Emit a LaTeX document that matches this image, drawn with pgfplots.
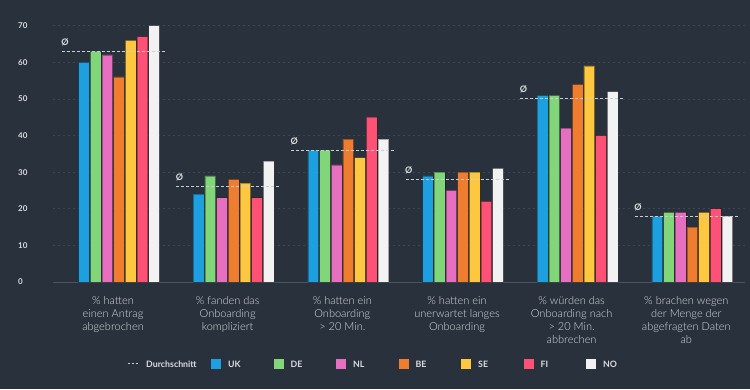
\documentclass[border=0pt]{standalone}
\usepackage{fontspec}
\setmainfont{Lato}
\newfontfamily\lightfont{Lato Light}
\usepackage{pgfplots}
\pgfplotsset{compat=1.18}
\definecolor{bg}{HTML}{29313D}
\definecolor{gridc}{HTML}{3E4755}
\definecolor{axisc}{HTML}{4A535F}
\definecolor{txt}{HTML}{D9DCDF}
\definecolor{avgc}{HTML}{C8CDD2}
\definecolor{cUK}{HTML}{1EA0E0}
\definecolor{cDE}{HTML}{80D678}
\definecolor{cNL}{HTML}{E76FBF}
\definecolor{cBE}{HTML}{EE7D30}
\definecolor{cSE}{HTML}{FDC840}
\definecolor{cFI}{HTML}{FD5275}
\definecolor{cNO}{HTML}{F2F2F2}
\pgfplotsset{
  mybar/.style={ybar, bar width=10.7pt, fill=#1, draw=black, draw opacity=0.3, line width=0.6pt,
    legend image code/.code={\fill[##1, draw=none] (0pt,-1pt) rectangle (10pt,9pt);}},
  avg/.style={forget plot, sharp plot, no marks, draw=avgc, line width=1.1pt, dash pattern=on 3pt off 2pt},
}
\tikzset{oslash/.style={pos=0, anchor=south west, inner sep=0pt, xshift=-1pt, yshift=5pt, text=txt, font=\bfseries\fontsize{9}{10}\selectfont}}
\begin{document}
\begin{tikzpicture}
\fill[bg] (-53pt,-107pt) rectangle (697pt,282pt);
\useasboundingbox (-53pt,-107pt) rectangle (697pt,282pt);
\begin{axis}[
  scale only axis, width=692pt, height=256.3pt,
  xmin=-0.576, xmax=5.46, ymin=0, ymax=70,
  clip=false,
  axis line style={draw=none}, tick style={draw=none},
  ytick={10,20,...,70}, extra y ticks={0},
  ymajorgrids=true,
  major grid style={draw=gridc, line width=0.6pt, dash pattern=on 2pt off 3pt},
  extra y tick style={major grid style={draw=axisc, line width=0.9pt, solid}},
  yticklabel style={anchor=west, inner sep=0pt, xshift=-35pt, text=txt,
    font=\bfseries\fontsize{8}{9}\selectfont, /pgf/number format/assume math mode=true},
  xtick={0,1,2,3,4,5},
  xticklabels={
    {\% hatten\\einen Antrag\\abgebrochen},
    {\% fanden das\\Onboarding\\kompliziert},
    {\% hatten ein\\Onboarding\\> 20 Min.},
    {\% hatten ein\\unerwartet langes\\Onboarding},
    {\% würden das\\Onboarding nach\\> 20 Min.\\abbrechen},
    {\% brachen wegen\\der Menge der\\abgefragten Daten\\ab}},
  xticklabel style={align=center, anchor=north, inner sep=0pt, yshift=-14pt, xshift=-6pt, text=txt,
    font=\lightfont\fontsize{11}{13}\selectfont},
  legend columns=8,
  legend cell align=left,
  legend style={at={(0.1069,-0.32)}, anchor=west, draw=none, fill=none, inner sep=0pt,
    column sep=0pt, text=txt, font=\bfseries\fontsize{8.8}{10}\selectfont,
    nodes={inner xsep=7pt, inner ysep=0pt, text width=38.5pt, align=left, anchor=base west}},
]
\addlegendimage{legend image code/.code={\draw[avgc, line width=1pt, dash pattern=on 2pt off 2pt] (0pt,4pt) -- (11pt,4pt);}}
\addlegendentry[text width=58pt]{Durchschnitt}
\addplot[mybar=cUK, bar shift=-35.1pt] coordinates {(0,60) (1,24) (2,36) (3,29) (4,51) (5,18)};
\addlegendentry{UK}
\addplot[mybar=cDE, bar shift=-23.4pt] coordinates {(0,63) (1,29) (2,36) (3,30) (4,51) (5,19)};
\addlegendentry{DE}
\addplot[mybar=cNL, bar shift=-11.7pt] coordinates {(0,62) (1,23) (2,32) (3,25) (4,42) (5,19)};
\addlegendentry{NL}
\addplot[mybar=cBE, bar shift=0pt] coordinates {(0,56) (1,28) (2,39) (3,30) (4,54) (5,15)};
\addlegendentry{BE}
\addplot[mybar=cSE, bar shift=11.7pt] coordinates {(0,66) (1,27) (2,34) (3,30) (4,59) (5,19)};
\addlegendentry{SE}
\addplot[mybar=cFI, bar shift=23.4pt] coordinates {(0,67) (1,23) (2,45) (3,22) (4,40) (5,20)};
\addlegendentry{FI}
\addplot[mybar=cNO, bar shift=35.1pt] coordinates {(0,70) (1,33) (2,39) (3,31) (4,52) (5,18)};
\addlegendentry{NO}
\addplot[avg] coordinates {(-0.5,63) (0.41,63)} node[oslash] {Ø};
\addplot[avg] coordinates {(0.5,26) (1.41,26)} node[oslash] {Ø};
\addplot[avg] coordinates {(1.5,36) (2.41,36)} node[oslash] {Ø};
\addplot[avg] coordinates {(2.5,28) (3.41,28)} node[oslash] {Ø};
\addplot[avg] coordinates {(3.5,50) (4.41,50)} node[oslash] {Ø};
\addplot[avg] coordinates {(4.5,18) (5.41,18)} node[oslash] {Ø};
\end{axis}
\end{tikzpicture}
\end{document}
